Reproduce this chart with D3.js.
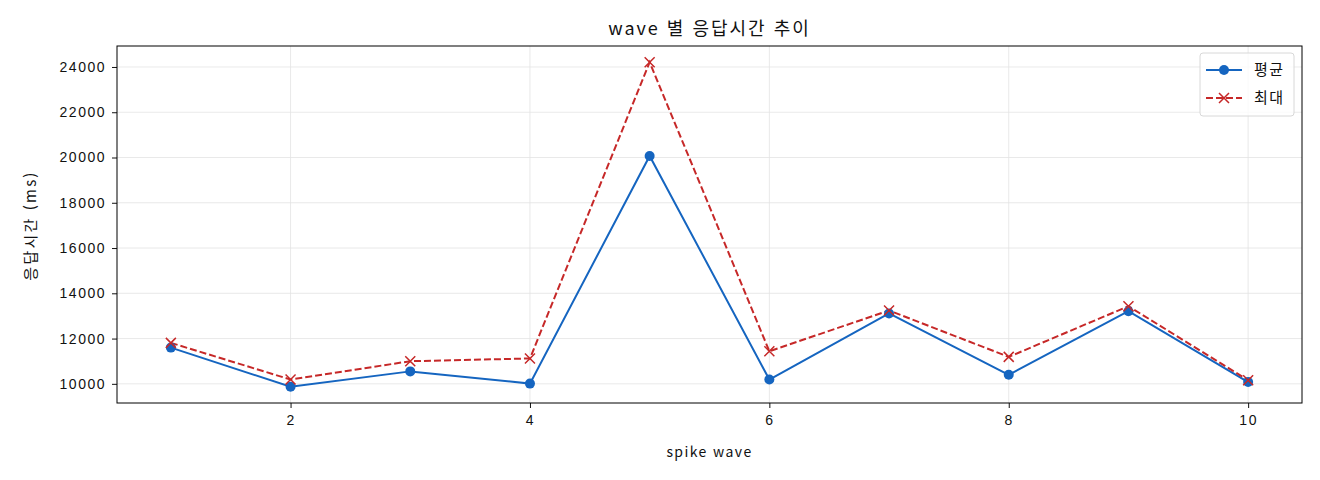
<!doctype html>
<html lang="ko">
<head>
<meta charset="utf-8">
<title>wave 별 응답시간 추이</title>
<style>
  body { margin: 0; background: #fff; }
  svg { display: block; font-family: "Noto Sans CJK KR", "Noto Sans", sans-serif; }
</style>
</head>
<body>
<div id="chart"></div>
<script src="https://cdn.jsdelivr.net/npm/d3@7"></script>
<script>
// data
var waves = [1, 2, 3, 4, 5, 6, 7, 8, 9, 10];
var avgMs = [11600, 9870, 10550, 10010, 20070, 10190, 13110, 10400, 13210, 10080];
var maxMs = [11810, 10190, 11000, 11120, 24210, 11440, 13240, 11190, 13430, 10160];
var xTicks = [2, 4, 6, 8, 10];
var yTicks = [10000, 12000, 14000, 16000, 18000, 20000, 22000, 24000];
var seriesNames = ["평균", "최대"];

var W = 1320, H = 480;
var m = {top: 46, right: 18, bottom: 77, left: 117};
var w = W - m.left - m.right, h = H - m.top - m.bottom;

var svg = d3.select("#chart").append("svg")
    .attr("width", W)
    .attr("height", H);

// matplotlib-like 5% margins
var xMin = d3.min(waves), xMax = d3.max(waves);
var xPad = (xMax - xMin) * 0.05;
var allVals = avgMs.concat(maxMs);
var yMin = d3.min(allVals), yMax = d3.max(allVals);
var yPad = (yMax - yMin) * 0.05;

var x = d3.scaleLinear().domain([xMin - xPad, xMax + xPad]).range([0, w]);
var y = d3.scaleLinear().domain([yMin - yPad, yMax + yPad]).range([h, 0]);

var g = svg.append("g").attr("transform", "translate(" + m.left + "," + m.top + ")");

// grid
g.append("g")
  .selectAll("line")
  .data(xTicks)
  .join("line")
  .attr("x1", function(d){ return x(d); })
  .attr("x2", function(d){ return x(d); })
  .attr("y1", 0).attr("y2", h)
  .attr("stroke", "#e3e3e3").attr("stroke-width", 0.8);

g.append("g")
  .selectAll("line")
  .data(yTicks)
  .join("line")
  .attr("x1", 0).attr("x2", w)
  .attr("y1", function(d){ return y(d); })
  .attr("y2", function(d){ return y(d); })
  .attr("stroke", "#e3e3e3").attr("stroke-width", 0.8);

// axes
var xAxis = g.append("g")
  .attr("transform", "translate(0," + h + ")")
  .call(d3.axisBottom(x).tickValues(xTicks).tickSize(5).tickPadding(7).tickFormat(d3.format("d")));
var yAxis = g.append("g")
  .call(d3.axisLeft(y).tickValues(yTicks).tickSize(5).tickPadding(6).tickFormat(d3.format("d")));

[xAxis, yAxis].forEach(function(a){
  a.select(".domain").remove();
  a.selectAll("text")
    .attr("font-size", 14).attr("fill", "#111")
    .attr("font-family", "inherit")
    .attr("letter-spacing", 1.5);
  a.selectAll("line").attr("stroke", "#111");
});

// frame
g.append("rect")
  .attr("width", w).attr("height", h)
  .attr("fill", "none").attr("stroke", "#000").attr("stroke-width", 1);

// lines
var line = d3.line().x(function(d, i){ return x(waves[i]); }).y(function(d){ return y(d); });

g.append("path")
  .datum(avgMs)
  .attr("d", line)
  .attr("fill", "none")
  .attr("stroke", "#1565c0")
  .attr("stroke-width", 2);

g.append("path")
  .datum(maxMs)
  .attr("d", line)
  .attr("fill", "none")
  .attr("stroke", "#c62828")
  .attr("stroke-width", 2)
  .attr("stroke-dasharray", "7,3");

g.selectAll("circle")
  .data(avgMs)
  .join("circle")
  .attr("cx", function(d, i){ return x(waves[i]); })
  .attr("cy", function(d){ return y(d); })
  .attr("r", 5)
  .attr("fill", "#1565c0");

g.selectAll("path.mx")
  .data(maxMs)
  .join("path")
  .attr("class", "mx")
  .attr("d", "M-5,-5L5,5M-5,5L5,-5")
  .attr("transform", function(d, i){ return "translate(" + x(waves[i]) + "," + y(d) + ")"; })
  .attr("fill", "none")
  .attr("stroke", "#c62828")
  .attr("stroke-width", 1.5);

// title and labels
svg.append("text")
  .attr("x", m.left + w / 2).attr("y", 35)
  .attr("text-anchor", "middle")
  .attr("font-size", 18).attr("fill", "#111")
  .attr("letter-spacing", 2)
  .text("wave 별 응답시간 추이");

svg.append("text")
  .attr("x", m.left + w / 2).attr("y", 457)
  .attr("text-anchor", "middle")
  .attr("font-size", 14).attr("fill", "#111")
  .attr("letter-spacing", 1.4)
  .text("spike wave");

svg.append("text")
  .attr("transform", "translate(36," + (m.top + h / 2 + 1) + ") rotate(-90)")
  .attr("text-anchor", "middle")
  .attr("font-size", 15).attr("fill", "#111")
  .attr("letter-spacing", 2.2)
  .text("응답시간 (ms)");

// legend
var lg = svg.append("g").attr("transform", "translate(1200,53)");
lg.append("rect")
  .attr("width", 94).attr("height", 63).attr("rx", 3)
  .attr("fill", "#fff").attr("fill-opacity", 0.8)
  .attr("stroke", "#d8d8d8");

var items = [
  {name: seriesNames[0], color: "#1565c0", dash: null, mark: "circle"},
  {name: seriesNames[1], color: "#c62828", dash: "7,3", mark: "x"}
];
items.forEach(function(it, i){
  var yy = 17 + i * 28;
  lg.append("line")
    .attr("x1", 6).attr("x2", 42).attr("y1", yy).attr("y2", yy)
    .attr("stroke", it.color).attr("stroke-width", 2)
    .attr("stroke-dasharray", it.dash);
  if (it.mark === "circle") {
    lg.append("circle").attr("cx", 24).attr("cy", yy).attr("r", 5).attr("fill", it.color);
  } else {
    lg.append("path")
      .attr("d", "M-5,-5L5,5M-5,5L5,-5")
      .attr("transform", "translate(24," + yy + ")")
      .attr("stroke", it.color).attr("stroke-width", 1.5).attr("fill", "none");
  }
  lg.append("text")
    .attr("x", 54).attr("y", yy + 5)
    .attr("font-size", 15).attr("fill", "#111")
    .attr("letter-spacing", 1.5)
    .text(it.name);
});
</script>
</body>
</html>
